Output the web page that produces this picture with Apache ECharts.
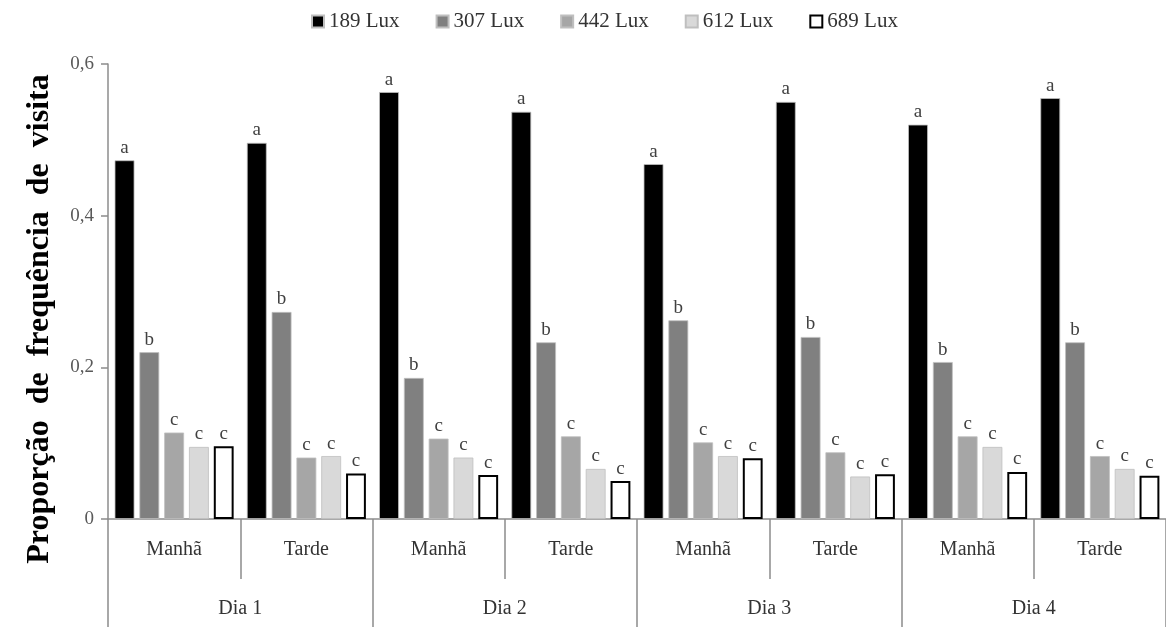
<!DOCTYPE html>
<html><head><meta charset="utf-8">
<script src="https://cdn.jsdelivr.net/npm/echarts@6/dist/echarts.min.js"></script>
<style>html,body{margin:0;padding:0;background:#fff}#c{width:1166px;height:627px}</style>
</head><body><div id="c"></div>
<script>
const periods = ['Manhã','Tarde','Manhã','Tarde','Manhã','Tarde','Manhã','Tarde'];
const days = ['Dia 1','Dia 2','Dia 3','Dia 4'];
const seriesNames = ['189 Lux','307 Lux','442 Lux','612 Lux','689 Lux'];
const lux189 = [0.473,0.496,0.563,0.537,0.468,0.550,0.520,0.555];
const lux307 = [0.220,0.273,0.186,0.233,0.262,0.240,0.207,0.233];
const lux442 = [0.114,0.081,0.106,0.109,0.101,0.088,0.109,0.083];
const lux612 = [0.095,0.083,0.081,0.066,0.083,0.056,0.095,0.066];
const lux689 = [0.096,0.060,0.058,0.050,0.080,0.059,0.062,0.057];
const letters189 = ['a','a','a','a','a','a','a','a'];
const letters307 = ['b','b','b','b','b','b','b','b'];
const letters442 = ['c','c','c','c','c','c','c','c'];
const letters612 = ['c','c','c','c','c','c','c','c'];
const letters689 = ['c','c','c','c','c','c','c','c'];
const yTicks = ['0','0,2','0,4','0,6'];
const yTitle = 'Proporção  de  frequência  de  visita';

const values = [lux189,lux307,lux442,lux612,lux689];
const letters = [letters189,letters307,letters442,letters612,letters689];
const fills = ['#000000','#808080','#a6a6a6','#d9d9d9','#ffffff'];
const serif = '"Liberation Serif","DejaVu Serif",serif';

const chart = echarts.init(document.getElementById('c'));
chart.setOption({
  animation:false,
  backgroundColor:'#fff',
  legend:{
    top:6, left:306, itemWidth:12, itemHeight:12, itemGap:36,
    icon:'rect',
    textStyle:{fontFamily:serif,fontSize:21,color:'#333',padding:[0,0,0,0]},
    data:seriesNames
  },
  graphic:[{
    type:'text', x:40, y:319, rotation:Math.PI/2,
    style:{text:yTitle,fontFamily:serif,fontSize:32,fontWeight:'bold',fill:'#000',
      align:'center',verticalAlign:'middle'}
  }],
  grid:{left:108,width:1064,top:64,bottom:108},
  xAxis:[{
    type:'category', data:periods, position:'bottom',
    axisLine:{lineStyle:{color:'#8c8c8c',width:1.5}},
    axisTick:{show:true,interval:0,length:60,lineStyle:{color:'#8c8c8c',width:1.5}},
    axisLabel:{interval:0,margin:21,fontFamily:serif,fontSize:20,color:'#333'}
  },{
    type:'category', data:days, position:'bottom', offset:0,
    axisLine:{show:false},
    axisTick:{show:true,interval:0,length:110,lineStyle:{color:'#8c8c8c',width:1.5}},
    axisLabel:{interval:0,margin:80,fontFamily:serif,fontSize:20,color:'#333'}
  }],
  yAxis:{
    type:'value', min:0, max:0.6, interval:0.2,
    axisLine:{show:true,lineStyle:{color:'#8c8c8c',width:1.5}},
    axisTick:{show:true,length:7,lineStyle:{color:'#8c8c8c',width:1.5}},
    splitLine:{show:false},
    axisLabel:{margin:14,fontFamily:serif,fontSize:19,color:'#595959',
      formatter:(v)=>yTicks[Math.round(v/0.2)]}
  },
  series:values.map((vals,i)=>({
    name:seriesNames[i], type:'bar', xAxisIndex:0,
    barCategoryGap:'10%', barGap:'25%',
    itemStyle:{color:fills[i],borderColor:i===4?'#000':'#bfbfbf',borderWidth:i===4?2:0.8},
    label:{show:true,position:'top',distance:3,fontFamily:serif,fontSize:19,color:'#404040',
      formatter:(p)=>letters[i][p.dataIndex]},
    data:vals
  }))
});
</script></body></html>
